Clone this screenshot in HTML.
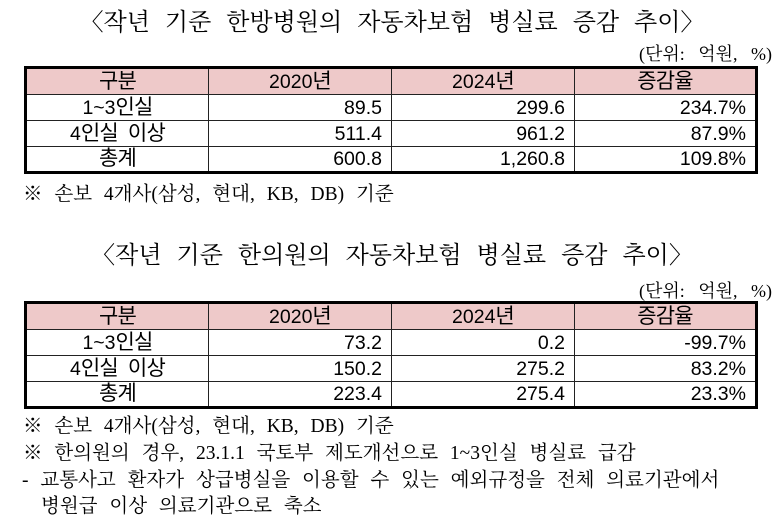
<!DOCTYPE html>
<html lang="ko">
<head>
<meta charset="utf-8">
<style>
  html, body { margin:0; padding:0; background:#fff; }
  body { width:784px; height:530px; position:relative; overflow:hidden; color:#000; }
  .serif { font-family:"Liberation Serif","Noto Serif CJK SC","Noto Serif CJK KR",serif; white-space:pre; position:absolute; }
  .title { left:0; width:784px; text-align:center; font-size:24px; line-height:30px; word-spacing:9px; }
  .unit { right:12px; font-size:18px; line-height:24px; word-spacing:9px; }
  .note { font-size:19.5px; line-height:24px; word-spacing:7px; }
  .tbl { position:absolute; left:24px; width:734px; height:108px; box-sizing:border-box;
         border:3px solid #000; background:#222; display:grid;
         grid-template-columns:181px 182px 182px 180px; grid-template-rows:25px 25px 25px 24px; gap:1px;
         font-family:"Liberation Sans","Noto Sans CJK KR","Noto Sans CJK SC",sans-serif; font-size:19.5px; }
  .tbl div { background:#fff; display:flex; align-items:center; white-space:pre; line-height:20px; }
  .tbl .h { background:#eec9c9; justify-content:center; }
  .tbl .c { justify-content:center; }
  .tbl .r { justify-content:flex-end; padding-right:9px; }
  .k { font-size:21px; letter-spacing:-0.8px; word-spacing:5px; }
</style>
</head>
<body>

<div class="serif title" style="top:8px;">〈작년 기준 한방병원의 자동차보험 병실료 증감 추이〉</div>
<div class="serif unit" style="top:42px;">(단위: 억원, %)</div>

<div class="tbl" style="top:66px;">
  <div class="h"><span class="k">구분</span></div><div class="h">2020<span class="k">년</span></div><div class="h">2024<span class="k">년</span></div><div class="h"><span class="k">증감율</span></div>
  <div class="c">1~3<span class="k">인실</span></div><div class="r">89.5</div><div class="r">299.6</div><div class="r">234.7%</div>
  <div class="c">4<span class="k">인실 이상</span></div><div class="r">511.4</div><div class="r">961.2</div><div class="r">87.9%</div>
  <div class="c"><span class="k">총계</span></div><div class="r">600.8</div><div class="r">1,260.8</div><div class="r">109.8%</div>
</div>

<div class="serif note" style="top:183px; left:23px;">※ 손보 4개사(삼성, 현대, KB, DB) 기준</div>

<div class="serif title" style="top:241px;">〈작년 기준 한의원의 자동차보험 병실료 증감 추이〉</div>
<div class="serif unit" style="top:279px;">(단위: 억원, %)</div>

<div class="tbl" style="top:301px;">
  <div class="h"><span class="k">구분</span></div><div class="h">2020<span class="k">년</span></div><div class="h">2024<span class="k">년</span></div><div class="h"><span class="k">증감율</span></div>
  <div class="c">1~3<span class="k">인실</span></div><div class="r">73.2</div><div class="r">0.2</div><div class="r">-99.7%</div>
  <div class="c">4<span class="k">인실 이상</span></div><div class="r">150.2</div><div class="r">275.2</div><div class="r">83.2%</div>
  <div class="c"><span class="k">총계</span></div><div class="r">223.4</div><div class="r">275.4</div><div class="r">23.3%</div>
</div>

<div class="serif note" style="top:415px; left:23px;">※ 손보 4개사(삼성, 현대, KB, DB) 기준</div>
<div class="serif note" style="top:442px; left:23px;">※ 한의원의 경우, 23.1.1 국토부 제도개선으로 1~3인실 병실료 급감</div>
<div class="serif note" style="top:469px; left:22px;">- 교통사고 환자가 상급병실을 이용할 수 있는 예외규정을 전체 의료기관에서</div>
<div class="serif note" style="top:495px; left:41px;">병원급 이상 의료기관으로 축소</div>

</body>
</html>
